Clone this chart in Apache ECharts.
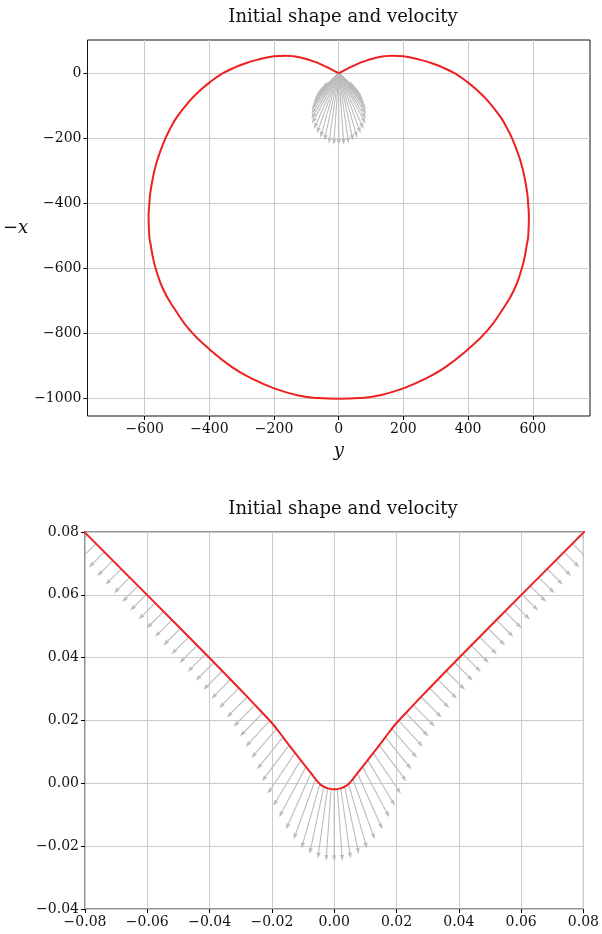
<!DOCTYPE html>
<html>
<head>
<meta charset="utf-8">
<script src="https://cdn.jsdelivr.net/npm/echarts@6/dist/echarts.min.js"></script>
<style>
  html, body { margin: 0; padding: 0; background: #fff; }
  #chart { width: 602px; height: 934px; }
</style>
</head>
<body>
<div id="chart"></div>
<script>
// tick values of the upper panel (its limits are not multiples of the step)
const ticksY = [-600, -400, -200, 0, 200, 400, 600];
const ticksNegX = [-1000, -800, -600, -400, -200, 0];

// whole initial shape (y across, -x up)
// starts at the tip, runs down the right side to the bottom and back up the left
const shapeY = [0, 23, 50, 80, 110, 140, 165, 200, 253, 290, 325, 358, 400, 433, 461, 500, 520, 536, 553, 567, 576, 583, 586, 588, 586, 581, 576, 566, 542, 505, 460, 400, 330, 269, 200, 125, 64, 0,
  -64, -125, -200, -269, -330, -400, -460, -505, -542, -566, -576, -581, -586, -588, -586, -583, -576, -567, -553, -536, -520, -500, -461, -433, -400, -358, -325, -290, -253, -200, -165, -140, -110, -80, -50, -23, 0];
const shapeNegX = [0, 12, 25, 37, 46, 52, 54, 52, 41, 30, 16, 0, -29, -57, -85, -134, -168, -200, -243, -287, -328, -370, -405, -440, -500, -530, -559, -600, -666, -728, -790, -848, -903, -938, -968, -990, -998, -1000,
  -998, -990, -968, -938, -903, -848, -790, -728, -666, -600, -559, -530, -500, -440, -405, -370, -328, -287, -243, -200, -168, -134, -85, -57, -29, 0, 16, 30, 41, 52, 54, 52, 46, 37, 25, 12, 0];

// close-up of the tip
const tipY = [-0.1, -0.08, -0.06, -0.04, -0.03, -0.025, -0.02, -0.0175, -0.015, -0.0125, -0.01, -0.0075, -0.005, -0.0035, -0.002, 0,
  0.002, 0.0035, 0.005, 0.0075, 0.01, 0.0125, 0.015, 0.0175, 0.02, 0.025, 0.03, 0.04, 0.06, 0.08, 0.1];
const tipNegX = [0.0998, 0.0798, 0.0599, 0.0399, 0.0297, 0.0245, 0.0192, 0.0161, 0.0128, 0.0096, 0.0064, 0.0033, 0.0002, -0.001, -0.0016, -0.0019,
  -0.0016, -0.001, 0.0002, 0.0033, 0.0064, 0.0096, 0.0128, 0.0161, 0.0192, 0.0245, 0.0297, 0.0399, 0.0599, 0.0798, 0.0998];

// quiver: tail points and velocity
const arrowY = [-0.0847, -0.0820, -0.0793, -0.0766, -0.0739, -0.0712, -0.0685, -0.0658, -0.0631, -0.0604, -0.0577, -0.0550, -0.0523, -0.0496, -0.0469, -0.0442, -0.0415, -0.0388, -0.0361, -0.0334, -0.0307, -0.0280, -0.0255, -0.0231, -0.0208, -0.0186, -0.0165, -0.0145, -0.0126, -0.0108, -0.0091, -0.0075, -0.0060, -0.0046, -0.0033, -0.0021, -0.0010, 0,
  0.0010, 0.0021, 0.0033, 0.0046, 0.0060, 0.0075, 0.0091, 0.0108, 0.0126, 0.0145, 0.0165, 0.0186, 0.0208, 0.0231, 0.0255, 0.0280, 0.0307, 0.0334, 0.0361, 0.0388, 0.0415, 0.0442, 0.0469, 0.0496, 0.0523, 0.0550, 0.0577, 0.0604, 0.0631, 0.0658, 0.0685, 0.0712, 0.0739, 0.0766, 0.0793, 0.0820, 0.0847];
const arrowNegX = [0.0843, 0.0816, 0.0789, 0.0762, 0.0735, 0.0708, 0.0681, 0.0654, 0.0627, 0.0600, 0.0572, 0.0545, 0.0518, 0.0491, 0.0464, 0.0437, 0.0410, 0.0383, 0.0356, 0.0329, 0.0302, 0.0274, 0.0248, 0.0223, 0.0198, 0.0172, 0.0146, 0.0121, 0.0096, 0.0073, 0.0052, 0.0031, 0.0013, -0.0002, -0.0010, -0.0015, -0.0018, -0.0019,
  -0.0018, -0.0015, -0.0010, -0.0002, 0.0013, 0.0031, 0.0052, 0.0073, 0.0096, 0.0121, 0.0146, 0.0172, 0.0198, 0.0223, 0.0248, 0.0274, 0.0302, 0.0329, 0.0356, 0.0383, 0.0410, 0.0437, 0.0464, 0.0491, 0.0518, 0.0545, 0.0572, 0.0600, 0.0627, 0.0654, 0.0681, 0.0708, 0.0735, 0.0762, 0.0789, 0.0816, 0.0843];
const velY = [-0.204, -0.206, -0.206, -0.208, -0.209, -0.211, -0.212, -0.214, -0.216, -0.219, -0.221, -0.224, -0.226, -0.228, -0.231, -0.236, -0.241, -0.246, -0.255, -0.260, -0.270, -0.280, -0.295, -0.309, -0.332, -0.346, -0.358, -0.376, -0.381, -0.379, -0.372, -0.345, -0.304, -0.256, -0.199, -0.137, -0.070, 0,
  0.070, 0.137, 0.199, 0.256, 0.304, 0.345, 0.372, 0.379, 0.381, 0.376, 0.358, 0.346, 0.332, 0.309, 0.295, 0.280, 0.270, 0.260, 0.255, 0.246, 0.241, 0.236, 0.231, 0.228, 0.226, 0.224, 0.221, 0.219, 0.216, 0.214, 0.212, 0.211, 0.209, 0.208, 0.206, 0.206, 0.204];
const velNegX = [-0.204, -0.206, -0.206, -0.208, -0.209, -0.211, -0.212, -0.214, -0.216, -0.219, -0.221, -0.224, -0.226, -0.228, -0.231, -0.236, -0.241, -0.246, -0.255, -0.260, -0.270, -0.280, -0.295, -0.320, -0.356, -0.398, -0.443, -0.499, -0.564, -0.631, -0.699, -0.774, -0.835, -0.895, -0.937, -0.977, -0.998, -1.000,
  -0.998, -0.977, -0.937, -0.895, -0.835, -0.774, -0.699, -0.631, -0.564, -0.499, -0.443, -0.398, -0.356, -0.320, -0.295, -0.280, -0.270, -0.260, -0.255, -0.246, -0.241, -0.236, -0.231, -0.228, -0.226, -0.224, -0.221, -0.219, -0.216, -0.214, -0.212, -0.211, -0.209, -0.208, -0.206, -0.206, -0.204];

const FONT = 'DejaVu Serif';
const GRID_C = '#cbcbcb';
const RED = '#ee2020';
const ARROW_C = '#bcbcbc';
const ARROW_PX = 72; // pixels per unit speed, like quiver's autoscale

const minus = s => s.replace('-', '\u2212');
const fmtInt = v => minus(String(v));
const fmt2 = v => Math.abs(v) < 1e-9 ? '0.00' : minus(v.toFixed(2));

const shapeData = shapeY.map((y, i) => [y, shapeNegX[i]]);
const bottomIdx = shapeNegX.indexOf(Math.min(...shapeNegX));
const shapeRight = shapeData.slice(0, bottomIdx + 1);
const shapeLeft = shapeData.slice(bottomIdx);
const tipData = tipY.map((y, i) => [y, tipNegX[i]]);
const arrowData = arrowY.map((y, i) => [y, arrowNegX[i], velY[i], velNegX[i]]);

function renderArrow(params, api) {
  const p = api.coord([api.value(0), api.value(1)]);
  const dx = api.value(2) * ARROW_PX;
  const dy = -api.value(3) * ARROW_PX;
  const len = Math.hypot(dx, dy);
  const ux = dx / len, uy = dy / len;
  const nx = -uy, ny = ux;
  const hl = 6, hw = 2.1;
  const tx = p[0] + dx, ty = p[1] + dy;
  const bx = tx - ux * hl, by = ty - uy * hl;
  return {
    type: 'group',
    children: [
      { type: 'line', shape: { x1: p[0], y1: p[1], x2: bx, y2: by }, style: { stroke: ARROW_C, lineWidth: 1.1 } },
      { type: 'polygon', shape: { points: [[tx, ty], [bx + nx * hw, by + ny * hw], [bx - nx * hw, by - ny * hw]] }, style: { fill: ARROW_C } }
    ]
  };
}

const axisCommon = {
  axisLine: { show: false, onZero: false },
  axisTick: { show: true, inside: false, length: 4, lineStyle: { color: '#000', width: 1 } },
  splitLine: { show: true, lineStyle: { color: GRID_C, width: 1 } },
  axisLabel: { color: '#111', fontFamily: FONT, fontSize: 14, margin: 6 }
};
const redLine = { color: RED, width: 2 };
const titleStyle = { fontFamily: FONT, fontSize: 18, fontWeight: 'normal', color: '#111' };
const nameStyle = { fontFamily: FONT, fontStyle: 'italic', fontSize: 18, color: '#111' };

const chart = echarts.init(document.getElementById('chart'), null, { renderer: 'canvas' });
chart.setOption({
  animation: false,
  backgroundColor: '#fff',
  textStyle: { fontFamily: FONT },
  title: [
    { text: 'Initial shape and velocity', left: 338, top: 3, textAlign: 'center', textStyle: titleStyle },
    { text: 'Initial shape and velocity', left: 338, top: 495, textAlign: 'center', textStyle: titleStyle }
  ],
  grid: [
    { left: 84, top: 40, width: 506, height: 376, show: true, borderColor: '#111', borderWidth: 1, backgroundColor: 'transparent' },
    { left: 85, top: 532, width: 504, height: 377, show: true, borderColor: '#222', borderWidth: 1, backgroundColor: 'transparent' }
  ],
  xAxis: [
    Object.assign({}, axisCommon, {
      type: 'value', gridIndex: 0, min: -777, max: 777,
      axisTick: Object.assign({}, axisCommon.axisTick, { customValues: ticksY }),
      axisLabel: Object.assign({}, axisCommon.axisLabel, { customValues: ticksY, formatter: fmtInt }),
      name: 'y', nameLocation: 'middle', nameGap: 26, nameTextStyle: nameStyle
    }),
    Object.assign({}, axisCommon, {
      type: 'value', gridIndex: 1, min: -0.08, max: 0.08, interval: 0.02,
      axisLabel: Object.assign({}, axisCommon.axisLabel, { formatter: fmt2 })
    })
  ],
  yAxis: [
    Object.assign({}, axisCommon, {
      type: 'value', gridIndex: 0, min: -1053, max: 102,
      axisTick: Object.assign({}, axisCommon.axisTick, { customValues: ticksNegX }),
      axisLabel: Object.assign({}, axisCommon.axisLabel, { customValues: ticksNegX, formatter: fmtInt }),
      name: '\u2212x', nameLocation: 'middle', nameGap: 52, nameRotate: 0, nameTextStyle: nameStyle
    }),
    Object.assign({}, axisCommon, {
      type: 'value', gridIndex: 1, min: -0.04, max: 0.08, interval: 0.02,
      axisLabel: Object.assign({}, axisCommon.axisLabel, { formatter: fmt2 })
    })
  ],
  series: [
    { type: 'custom', xAxisIndex: 0, yAxisIndex: 0, data: arrowData, renderItem: renderArrow, clip: true, z: 2, silent: true },
    { type: 'line', xAxisIndex: 0, yAxisIndex: 0, data: shapeRight, showSymbol: false, smooth: 0.5, z: 3,
      lineStyle: redLine, clip: true, silent: true },
    { type: 'line', xAxisIndex: 0, yAxisIndex: 0, data: shapeLeft, showSymbol: false, smooth: 0.5, z: 3,
      lineStyle: redLine, clip: true, silent: true },
    { type: 'custom', xAxisIndex: 1, yAxisIndex: 1, data: arrowData, renderItem: renderArrow, clip: true, z: 2, silent: true },
    { type: 'line', xAxisIndex: 1, yAxisIndex: 1, data: tipData, showSymbol: false, smooth: 0.3, z: 3,
      lineStyle: redLine, clip: true, silent: true }
  ]
});
</script>
</body>
</html>
